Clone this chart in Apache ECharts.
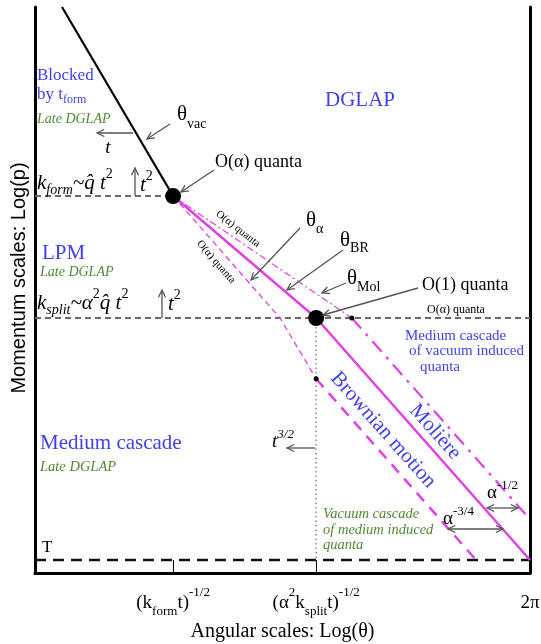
<!DOCTYPE html>
<html><head><meta charset="utf-8">
<script src="https://cdn.jsdelivr.net/npm/echarts@6/dist/echarts.min.js"></script>
<style>html,body{margin:0;padding:0;background:#fff}#c{width:541px;height:644px}</style>
</head><body><div id="c"></div>
<script>
// ---------------- data (schematic log units: x 0..100 = left edge .. 2π, y 0..100 = bottom .. top)
const xTickValues = [27.9, 56.8];
const xLabelValues = [27.9, 56.8, 100];
const xLabelTexts = ['{n|(k}{sb|form}{n|t)}{sp|-1/2}', '{n|(α}{sp|2}{n|k}{sb|split}{n|t)}{sp|-1/2}', '{n|2π}'];
const thetaVac   = [[5.45, 100], [27.9, 66.6]];
const kFormLine  = [[0, 66.6], [27.9, 66.6]];
const kSplitLine = [[0, 45.05], [100, 45.05]];
const tLine      = [[0, 2.3], [100, 2.3]];
const thetaBR    = [[27.9, 66.6], [56.8, 45.05], [100, 2.3]];
const thetaMol   = [[27.9, 66.6], [64.0, 45.05]];
const moliere    = [[64.0, 45.05], [100, 9.5]];
const thetaAlpha = [[27.9, 66.6], [49.5, 45.05], [56.8, 34.3]];
const brownian   = [[56.8, 34.3], [89.1, 2.3]];
const splitDrop  = [[56.8, 45.05], [56.8, 2.3]];
const bigDots    = [[27.9, 66.6], [56.8, 45.05]];
const smallDots  = [[64.0, 45.05], [56.8, 34.3]];

// ---------------- styles
const SERIF = '"Liberation Serif", "DejaVu Serif", serif';
const SANS = '"Liberation Sans", Arial, sans-serif';
const BLUE = '#3f3ff2', GREEN = '#4f8a33', PINK = '#e040e6', GREY = '#555', DGREY = '#6a6a6a';

function richFor(size, color, o) {
  o = o || {};
  const s = Math.round(size * (o.small || 0.68));
  const subPad = (o.sub != null ? o.sub : 0.75) * size;
  const supPad = (o.sup != null ? o.sup : 0.8) * size;
  const base = {fontFamily: SERIF, fontSize: size, fill: color, color: color, lineHeight: size + 2, verticalAlign: 'middle'};
  const sb = Object.assign({}, base, {fontSize: s, lineHeight: s + 1, padding: [subPad, 0, 0, 0]});
  const sp = Object.assign({}, base, {fontSize: s, lineHeight: s + 1, padding: [0, 0, supPad, 0]});
  return {
    n: base,
    i: Object.assign({}, base, {fontStyle: 'italic'}),
    sb: sb, isb: Object.assign({}, sb, {fontStyle: 'italic'}),
    sp: sp, isp: Object.assign({}, sp, {fontStyle: 'italic'})
  };
}

// annotation texts (pixel layout)
const notes = [
  {x: 37, y: 76, t: '{n|Blocked}', size: 17, color: BLUE},
  {x: 37, y: 95, t: '{n|by t}{sb|form}', size: 17, color: BLUE, sub: 0.6},
  {x: 37, y: 119, t: '{i|Late DGLAP}', size: 14, color: GREEN},
  {x: 177, y: 114, t: '{n|θ}{sb|vac}', size: 21, sub: 1.0},
  {x: 108, y: 148, t: '{i|t}', size: 19, align: 'center'},
  {x: 37, y: 183, t: '{i|k}{isb|form}{i|~q\u0302 t}{sp|2}', size: 21, sub: 0.7},
  {x: 140, y: 185, t: '{i|t}{sp|2}', size: 21},
  {x: 215, y: 162, t: '{n|O(α) quanta}', size: 18},
  {x: 325, y: 100, t: '{n|DGLAP}', size: 21, color: BLUE},
  {x: 306, y: 220, t: '{n|θ}{sb|α}', size: 21, sub: 0.9},
  {x: 340, y: 240, t: '{n|θ}{sb|BR}', size: 21, sub: 0.8},
  {x: 347, y: 278, t: '{n|θ}{sb|Mol}', size: 21, sub: 0.9},
  {x: 422, y: 285, t: '{n|O(1) quanta}', size: 18},
  {x: 427, y: 310, t: '{n|O(α) quanta}', size: 12},
  {x: 42, y: 253, t: '{n|LPM}', size: 21, color: BLUE},
  {x: 40, y: 272, t: '{i|Late DGLAP}', size: 14, color: GREEN},
  {x: 37, y: 303, t: '{i|k}{isb|split}{i|~α}{sp|2}{i|q\u0302 t}{sp|2}', size: 21, sub: 0.7},
  {x: 168, y: 304, t: '{i|t}{sp|2}', size: 21},
  {x: 40, y: 443, t: '{n|Medium cascade}', size: 21, color: BLUE},
  {x: 40, y: 467, t: '{i|Late DGLAP}', size: 14.5, color: GREEN},
  {x: 42, y: 548, t: '{n|T}', size: 17},
  {x: 405, y: 336, t: '{n|Medium cascade}', size: 15, color: BLUE},
  {x: 409, y: 351, t: '{n|of vacuum induced}', size: 15, color: BLUE},
  {x: 420, y: 367, t: '{n|quanta}', size: 15, color: BLUE},
  {x: 323, y: 514, t: '{i|Vacuum cascade}', size: 14.5, color: GREEN},
  {x: 323, y: 530, t: '{i|of medium induced}', size: 14.5, color: GREEN},
  {x: 323, y: 545, t: '{i|quanta}', size: 14.5, color: GREEN},
  {x: 383, y: 430, t: '{n|Brownian motion}', size: 21, color: BLUE, rot: -48.4, align: 'center'},
  {x: 435, y: 432, t: '{n|Molière}', size: 21, color: BLUE, rot: -48.4, align: 'center'},
  {x: 238, y: 229, t: '{n|O(α) quanta}', size: 11, rot: -38, align: 'center'},
  {x: 216, y: 262, t: '{n|O(α) quanta}', size: 11, rot: -49, align: 'center'},
  {x: 272, y: 442, t: '{i|t}{isp|3/2}', size: 19},
  {x: 487, y: 493, t: '{n|α}{sp|-1/2}', size: 19},
  {x: 443, y: 519, t: '{n|α}{sp|-3/4}', size: 19}
];

// annotation arrows (pixel layout): [x1,y1,x2,y2,doubleHeaded]
const arrows = [
  [170, 124, 147, 139, false],
  [133, 133, 97, 133, false],
  [135, 196, 135, 168, false],
  [214, 170, 181, 192, false],
  [300, 228, 251, 280, false],
  [343, 250, 287, 290, false],
  [346, 283, 322, 293, false],
  [418, 288, 323, 315, false],
  [162, 318, 162, 290, false],
  [315, 448, 287, 448, false],
  [487, 508, 518, 508, true],
  [448, 529, 503, 529, true]
];

function arrowEls(a) {
  const [x1, y1, x2, y2, both] = a;
  const st = {stroke: GREY, lineWidth: 1.3, fill: null};
  const els = [{type: 'line', z: 50, shape: {x1, y1, x2, y2}, style: st}];
  const head = (fx, fy, tx, ty) => {
    const ang = Math.atan2(ty - fy, tx - fx), L = 8, w = 0.45;
    return {type: 'polyline', z: 50, shape: {points: [
      [tx - L * Math.cos(ang - w), ty - L * Math.sin(ang - w)], [tx, ty],
      [tx - L * Math.cos(ang + w), ty - L * Math.sin(ang + w)]]}, style: st};
  };
  els.push(head(x1, y1, x2, y2));
  if (both) els.push(head(x2, y2, x1, y1));
  return els;
}

const graphics = [];
notes.forEach(n => {
  const color = n.color || '#000';
  graphics.push({
    type: 'text', z: 60, x: n.x, y: n.y,
    rotation: (n.rot || 0) * Math.PI / 180,
    style: {text: n.t, rich: richFor(n.size, color, n), fill: color,
      align: n.align || 'left', verticalAlign: 'middle'}
  });
});
arrows.forEach(a => arrowEls(a).forEach(e => graphics.push(e)));

function ln(data, color, width, type, z) {
  return {type: 'line', data: data, showSymbol: false, symbol: 'none', silent: true, z: z || 2,
    lineStyle: {color: color, width: width, type: type || 'solid', cap: 'butt', opacity: 1}};
}

const axisRich = richFor(19, '#000', {sub: 0.8, sup: 1.1});

const chart = echarts.init(document.getElementById('c'), null, {renderer: 'canvas'});
chart.setOption({
  animation: false,
  backgroundColor: '#fff',
  grid: {left: 35, right: 11, top: 7, bottom: 71, outerBoundsMode: 'none', containLabel: false},
  xAxis: {
    type: 'value', min: 0, max: 100,
    axisLine: {show: true, onZero: false, lineStyle: {color: '#000', width: 3}},
    axisTick: {show: true, customValues: xTickValues, inside: true, length: 13, lineStyle: {color: '#000', width: 1}},
    axisLabel: {show: true, customValues: xLabelValues, margin: 20, rich: axisRich, verticalAlign: 'top',
      formatter: v => { const i = xLabelValues.findIndex(u => Math.abs(u - v) < 1e-6); return i >= 0 ? xLabelTexts[i] : ''; }},
    splitLine: {show: false},
    name: 'Angular scales: Log(θ)', nameLocation: 'middle', nameGap: 49, nameMoveOverlap: false,
    nameTextStyle: {fontFamily: SERIF, fontSize: 20, color: '#000'}
  },
  yAxis: [{
    type: 'value', min: 0, max: 100, position: 'left',
    axisLine: {show: true, onZero: false, lineStyle: {color: '#000', width: 3}},
    axisTick: {show: false}, axisLabel: {show: false}, splitLine: {show: false},
    name: 'Momentum scales: Log(p)', nameLocation: 'middle', nameGap: 6, nameRotate: 90,
    nameTextStyle: {fontFamily: SANS, fontSize: 20, color: '#000', padding: [0, 0, 0, 24]}
  }, {
    type: 'value', min: 0, max: 100, position: 'right',
    axisLine: {show: true, onZero: false, lineStyle: {color: '#000', width: 3}},
    axisTick: {show: false}, axisLabel: {show: false}, splitLine: {show: false}
  }],
  series: [
    ln(kFormLine, DGREY, 2, [6, 4]),
    ln(kSplitLine, DGREY, 2, [6, 4]),
    ln(tLine, '#111', 2.5, [11, 7]),
    ln(splitDrop, '#888', 1.5, [1.5, 3]),
    ln(thetaVac, '#000', 2.2, 'solid', 3),
    ln(thetaMol, PINK, 1.2, [7, 3, 2, 3], 4),
    ln(moliere, PINK, 2.2, [14, 7, 3, 7], 4),
    ln(thetaAlpha, PINK, 1.3, [6, 4], 4),
    ln(brownian, PINK, 2.5, [11, 8], 4),
    ln(thetaBR, PINK, 2.5, 'solid', 5),
    {type: 'scatter', data: bigDots, symbolSize: 16, itemStyle: {color: '#000', opacity: 1, borderWidth: 0}, z: 10, silent: true},
    {type: 'scatter', data: smallDots, symbolSize: 5, itemStyle: {color: '#000', opacity: 1, borderWidth: 0}, z: 10, silent: true}
  ],
  graphic: {elements: graphics}
});
</script>
</body></html>
